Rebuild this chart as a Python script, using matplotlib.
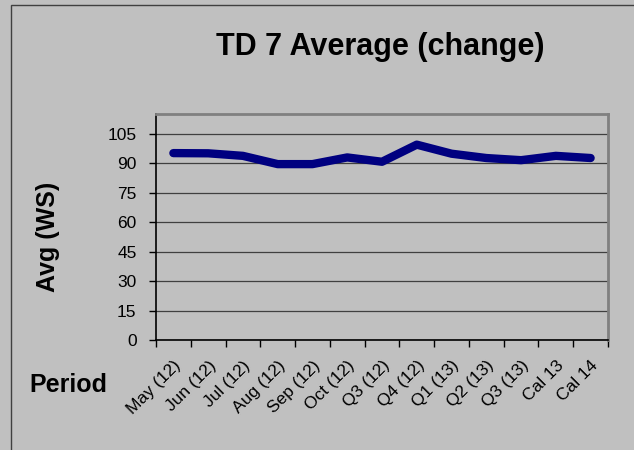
import numpy as np
import matplotlib.pyplot as plt
from matplotlib.patches import Rectangle

plt.rcParams['font.family'] = ['Liberation Sans', 'DejaVu Sans']

periods = ['May (12)', 'Jun (12)', 'Jul (12)', 'Aug (12)', 'Sep (12)', 'Oct (12)',
           'Q3 (12)', 'Q4 (12)', 'Q1 (13)', 'Q2 (13)', 'Q3 (13)', 'Cal 13', 'Cal 14']
avg_ws = [95.1, 95.0, 93.7, 89.5, 89.5, 92.9, 90.7, 99.4, 94.8, 92.6, 91.5, 93.7, 92.6]
y_ticks = [0, 15, 30, 45, 60, 75, 90, 105]

bg = '#c0c0c0'
fig = plt.figure(figsize=(6.34, 4.5), dpi=100, facecolor=bg)

# outer chart border (only left/top visible in the crop)
fig.patches.append(Rectangle((11 / 634, -0.1), 1.2, (450 - 5) / 450 + 0.1,
                             transform=fig.transFigure, fill=False,
                             edgecolor='#404040', linewidth=1.0))

ax = fig.add_axes([156 / 634, 110 / 450, 452 / 634, 226 / 450], facecolor=bg)
x = np.arange(len(periods))
ax.plot(x, avg_ws, color='#000080', linewidth=6, solid_capstyle='round',
        solid_joinstyle='round', zorder=3)

ax.set_xlim(-0.5, len(periods) - 0.5)
ax.set_ylim(0, 115)
ax.set_yticks(y_ticks)
ax.set_yticklabels([str(v) for v in y_ticks], fontsize=12.5)
ax.grid(axis='y', color='#404040', linewidth=0.9)
ax.set_axisbelow(True)

# category labels at the centres, tick marks at the boundaries
ax.set_xticks(x)
ax.set_xticklabels(periods, rotation=45, ha='right', rotation_mode='anchor', fontsize=12.5)
ax.tick_params(axis='x', which='major', length=0, pad=13)
ax.set_xticks(np.arange(len(periods) + 1) - 0.5, minor=True)
ax.tick_params(axis='x', which='minor', length=5, width=1, direction='out')
ax.tick_params(axis='y', length=5, width=1, direction='out', pad=9)

for side in ['left', 'bottom']:
    ax.spines[side].set_color('black')
    ax.spines[side].set_linewidth(1.2)
for side in ['top', 'right']:
    ax.spines[side].set_color('#808080')
    ax.spines[side].set_linewidth(2)

fig.text(380 / 634, 1 - 47 / 450, 'TD 7 Average (change)', ha='center', va='center',
         fontsize=22, fontweight='bold')
fig.text(48 / 634, 1 - 237 / 450, 'Avg (WS)', ha='center', va='center', rotation=90,
         fontsize=18, fontweight='bold')
fig.text(68 / 634, 1 - 385 / 450, 'Period', ha='center', va='center',
         fontsize=18, fontweight='bold')

fig.savefig('out.png', dpi=100, facecolor=bg)
